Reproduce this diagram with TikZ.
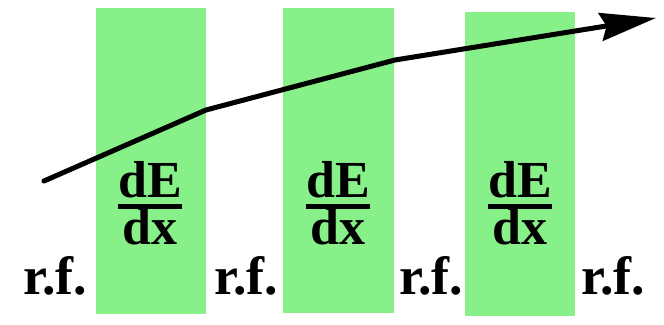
\documentclass[tikz,border=0pt]{standalone}
\usepackage{fontspec}
\setmainfont{Liberation Serif}
\usetikzlibrary{arrows.meta}

\definecolor{absorber}{RGB}{136,240,136}

\begin{document}
\begin{tikzpicture}[
    x=1pt,
    y=-1pt,
    absorberbar/.style={
        fill=absorber,
        draw=none
    },
    track/.style={
        -{Stealth[length=56pt,width=28pt,inset=6pt]},
        line width=5pt,
        line join=round,
        line cap=round
    },
    fracpart/.style={
        inner sep=0pt,
        anchor=base,
        font=\fontsize{52}{52}\selectfont\bfseries
    },
    fracbar/.style={
        line width=5pt
    },
    rflabel/.style={
        inner sep=0pt,
        anchor=base,
        font=\fontsize{54}{54}\selectfont\bfseries
    }
]

\useasboundingbox (0,0) rectangle (664,324);

% ============================================================
% Absorber slabs
% ============================================================
\fill[absorberbar] (96,8)  rectangle (206,314);
\fill[absorberbar] (283,8) rectangle (394,313);
\fill[absorberbar] (465,12) rectangle (575,316);

% ============================================================
% Energy loss in each slab
% ============================================================

% ------------------------------------------------------------
% 1. First slab
% ------------------------------------------------------------
\node[fracpart] (num-a) at (150,197) {dE};
\node[fracpart] (den-a) at (150,244) {dx};
\draw[fracbar]
    ([yshift=-8.5pt]num-a.south west) -- ([yshift=-8.5pt]num-a.south east);

% ------------------------------------------------------------
% 2. Second slab
% ------------------------------------------------------------
\node[fracpart] (num-b) at (338,197) {dE};
\node[fracpart] (den-b) at (338,244) {dx};
\draw[fracbar]
    ([yshift=-8.5pt]num-b.south west) -- ([yshift=-8.5pt]num-b.south east);

% ------------------------------------------------------------
% 3. Third slab
% ------------------------------------------------------------
\node[fracpart] (num-c) at (520,197) {dE};
\node[fracpart] (den-c) at (520,244) {dx};
\draw[fracbar]
    ([yshift=-8.5pt]num-c.south west) -- ([yshift=-8.5pt]num-c.south east);

% ============================================================
% r.f. gaps
% ============================================================
\node[rflabel] (rf-a) at (55,294)  {r.f.};
\node[rflabel] (rf-b) at (246,294) {r.f.};
\node[rflabel] (rf-c) at (431,294) {r.f.};
\node[rflabel] (rf-d) at (613,294) {r.f.};

% ============================================================
% Particle track
% ============================================================
\coordinate (trk-start) at (44,181);
\coordinate (trk-kink1) at (206,110);
\coordinate (trk-kink2) at (395,60);
\coordinate (trk-end)   at (656,18);

\draw[track] (trk-start) -- (trk-kink1) -- (trk-kink2) -- (trk-end);

\end{tikzpicture}
\end{document}
